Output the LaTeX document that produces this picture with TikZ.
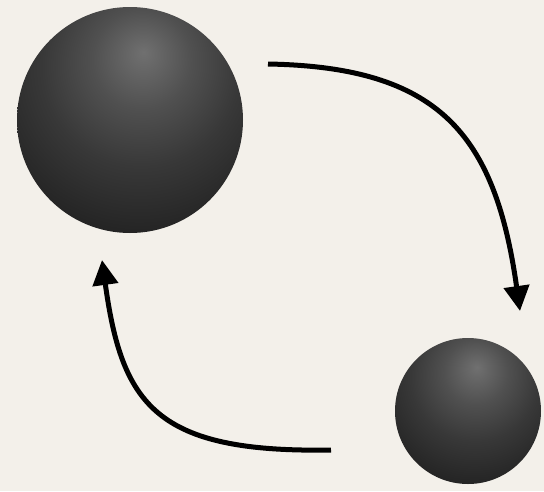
\documentclass[tikz,border=0pt]{standalone}
\usepackage{tikz}
\usetikzlibrary{arrows.meta,positioning}

\definecolor{paper}{HTML}{F3F0EA}
\definecolor{sphhi}{HTML}{707070}
\definecolor{sphmid}{HTML}{505050}
\definecolor{sphlow}{HTML}{383838}
\definecolor{sphdark}{HTML}{272727}
\definecolor{sphedge}{HTML}{1C1C1C}
\pgfdeclareradialshading{darksphere}{\pgfpoint{3bp}{15bp}}{%
  color(0bp)=(sphhi); color(11bp)=(sphmid); color(22bp)=(sphlow);
  color(33bp)=(sphdark); color(40bp)=(sphedge); color(100bp)=(sphedge)}

\begin{document}
\begin{tikzpicture}[
  x=1pt, y=-1pt,
  sphere/.style={circle, inner sep=0pt, shading=darksphere},
  arrow/.style={-{Triangle[length=25pt,width=25pt]}, line width=5pt, black}
]
\fill[paper] (0,0) rectangle (544,491);
\useasboundingbox (0,0) rectangle (544,491);

\node[sphere, minimum size=226pt] (big)   at (130,120) {};
\node[sphere, minimum size=146pt] (small) at (468,411) {};

% free ends of the two arrows
\coordinate (topstart) at (268,64);
\coordinate (topend)   at (520,311);
\coordinate (botstart) at (331,450);
\coordinate (botend)   at (102,260);

\draw[arrow] (topstart) .. controls (438,67) and (495,133) .. (topend);
\draw[arrow] (botstart) .. controls (156,453) and (122,405) .. (botend);

\end{tikzpicture}
\end{document}
